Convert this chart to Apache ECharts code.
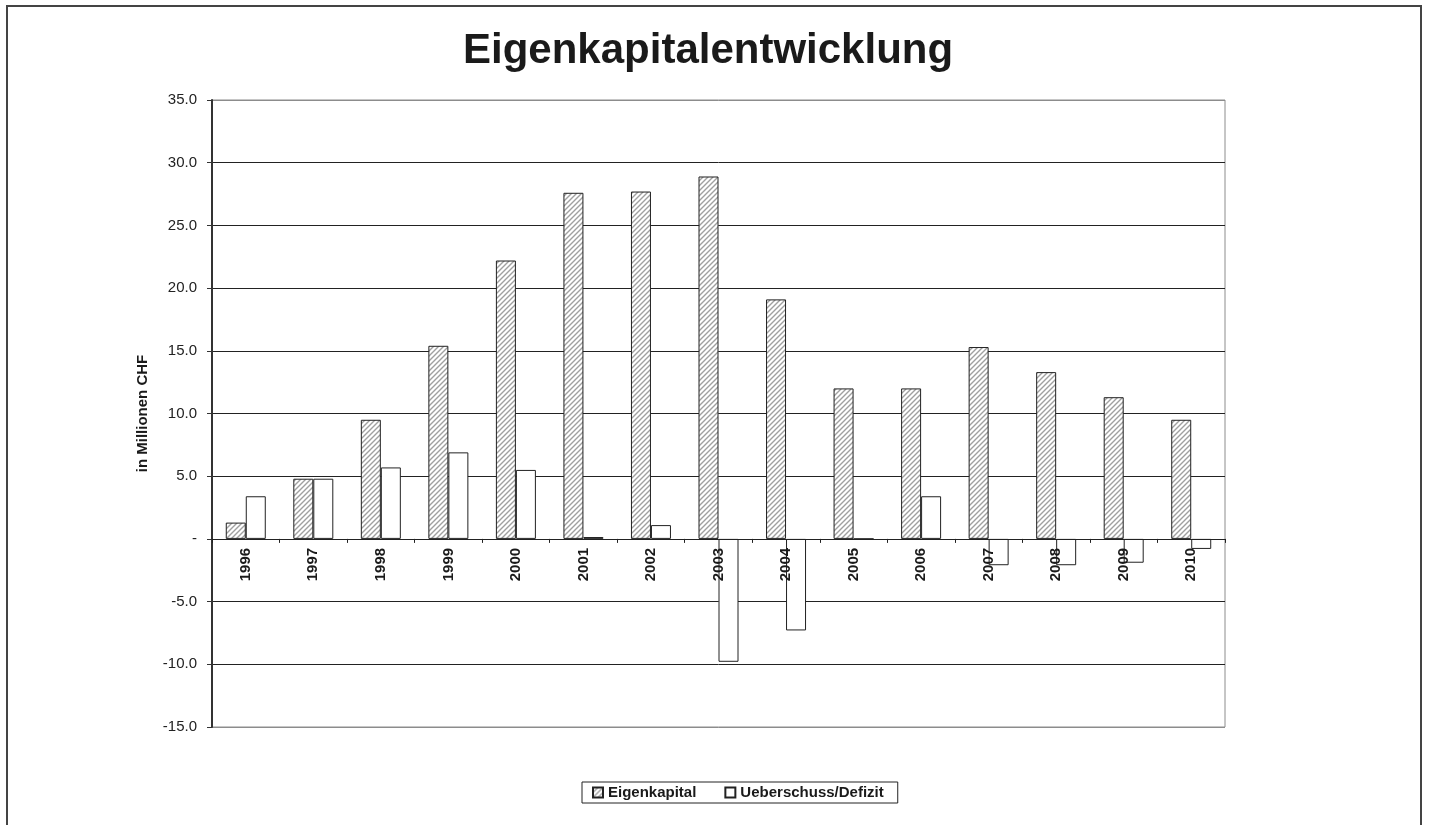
<!DOCTYPE html>
<html>
<head>
<meta charset="utf-8">
<script src="https://cdn.jsdelivr.net/npm/echarts@6/dist/echarts.min.js"></script>
<style>html,body{margin:0;padding:0;background:#fff;}#c{width:1429px;height:825px;}</style>
</head>
<body>
<div id="c"></div>
<script>
const years = ['1996','1997','1998','1999','2000','2001','2002','2003','2004','2005','2006','2007','2008','2009','2010'];
const eigenkapital = [1.3, 4.8, 9.5, 15.4, 22.2, 27.6, 27.7, 28.9, 19.1, 12.0, 12.0, 15.3, 13.3, 11.3, 9.5];
const ueberschuss = [3.4, 4.8, 5.7, 6.9, 5.5, 0.15, 1.1, -9.8, -7.3, 0, 3.4, -2.1, -2.1, -1.9, -0.8];
const yTicks = {min: -15, max: 35, interval: 5};

// hatch pattern
const pc = document.createElement('canvas');
pc.width = 5; pc.height = 5;
const g = pc.getContext('2d');
g.fillStyle = '#fff'; g.fillRect(0,0,5,5);
g.strokeStyle = '#a0a0a0'; g.lineWidth = 1.4;
g.beginPath();
g.moveTo(-1,6); g.lineTo(6,-1);
g.moveTo(-1,1); g.lineTo(1,-1);
g.moveTo(4,6); g.lineTo(6,4);
g.stroke();

const gridTop = 100, gridBottom = 98, H = 825;
const gridH = H - gridTop - gridBottom;
const zeroOffset = gridH * (0 - yTicks.min) / (yTicks.max - yTicks.min);

const chart = echarts.init(document.getElementById('c'));
const splitColors = [];
for (let v = yTicks.min; v <= yTicks.max; v += yTicks.interval) {
  splitColors.push((v === yTicks.min || v === yTicks.max) ? '#8c8c8c' : '#222');
}
const font = 'Liberation Sans';
chart.setOption({
  animation: false,
  backgroundColor: '#fff',
  title: {
    text: 'Eigenkapitalentwicklung', left: 458, top: 25,
    textStyle: {fontFamily: font, fontWeight: 'bold', fontSize: 42, color: '#1a1a1a'}
  },
  graphic: [
    {type: 'rect', shape: {x: 7, y: 6, width: 1414, height: 840}, style: {fill: 'none', stroke: '#444', lineWidth: 2}, silent: true}
  ],
  legend: {
    left: 582, top: 782,
    padding: [3, 14, 3, 10],
    borderColor: '#222', borderWidth: 1,
    itemWidth: 10, itemHeight: 10, itemGap: 28,
    icon: 'rect',
    textStyle: {fontFamily: font, fontWeight: 'bold', fontSize: 15, color: '#1a1a1a'},
    data: ['Eigenkapital', 'Ueberschuss/Defizit']
  },
  grid: {left: 212, right: 204, top: gridTop, bottom: gridBottom, show: true, borderColor: '#8c8c8c', borderWidth: 1, containLabel: false},
  xAxis: {
    type: 'category', data: years,
    offset: -zeroOffset,
    axisLine: {onZero: false, lineStyle: {color: '#222', width: 1}},
    axisTick: {show: true, inside: false, length: 4, alignWithLabel: false, lineStyle: {color: '#222'}},
    axisLabel: {rotate: 90, margin: 9, fontFamily: font, fontWeight: 'bold', fontSize: 15, color: '#1a1a1a'},
    z: 10
  },
  yAxis: {
    type: 'value', min: yTicks.min, max: yTicks.max, interval: yTicks.interval,
    name: 'in Millionen CHF', nameLocation: 'middle', nameGap: 62, nameRotate: 90,
    nameTextStyle: {fontFamily: font, fontWeight: 'bold', fontSize: 15, color: '#1a1a1a'},
    axisLine: {show: true, lineStyle: {color: '#333', width: 2}},
    axisTick: {show: true, inside: false, length: 5, lineStyle: {color: '#333'}},
    axisLabel: {margin: 15, fontFamily: font, fontSize: 15, color: '#222',
      formatter: v => v === 0 ? '-' : v.toFixed(1)},
    splitLine: {show: true, lineStyle: {color: splitColors, width: 1}}
  },
  series: [
    {name: 'Eigenkapital', type: 'bar', data: eigenkapital, barWidth: 20, barGap: '0%',
     itemStyle: {color: {image: pc, repeat: 'repeat'}, borderColor: '#222', borderWidth: 1}},
    {name: 'Ueberschuss/Defizit', type: 'bar', data: ueberschuss, barWidth: 20, barGap: '0%',
     itemStyle: {color: '#fff', borderColor: '#222', borderWidth: 1}}
  ]
});
</script>
</body>
</html>
